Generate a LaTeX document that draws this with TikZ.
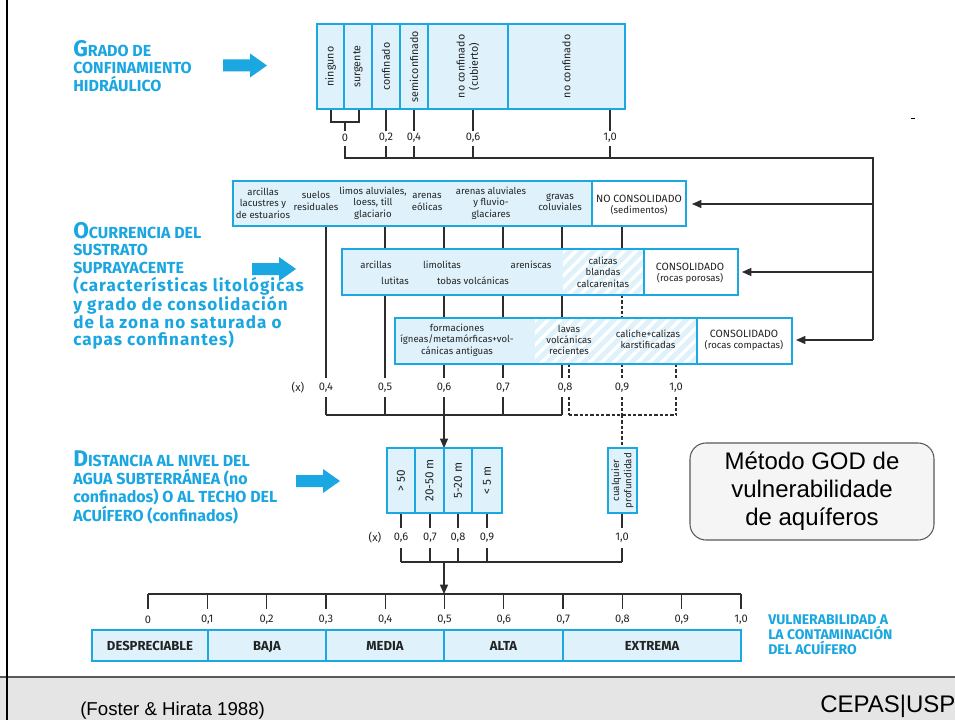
\documentclass[tikz,border=0pt]{standalone}
\usepackage{fontspec}
\setmainfont{Fira Sans}
\newfontfamily\arialf{Liberation Sans}
\usetikzlibrary{arrows.meta}
\definecolor{cyb}{RGB}{27,167,225}
\definecolor{lbf}{RGB}{223,242,252}
\definecolor{hdc}{RGB}{26,166,224}
\definecolor{lnc}{RGB}{45,45,45}
\definecolor{txc}{RGB}{35,35,35}
\definecolor{ftg}{RGB}{229,229,229}
\tikzset{
  boxb/.style={draw=cyb, line width=1.9pt},
  conn/.style={draw=lnc, line width=0.95pt},
  dconn/.style={draw=lnc, line width=0.95pt, dash pattern=on 2.5pt off 1.5pt},
  arr/.style={-{Triangle[length=7pt,width=6pt]}},
  btxt/.style={font=\fontsize{7.2}{8.5}\selectfont, text=txc, align=center, inner sep=0pt},
  vtxt/.style={font=\fontsize{8}{9.8}\selectfont, text=txc, align=center, inner sep=0pt, rotate=90},
  lab/.style={font=\fontsize{8.3}{9}\selectfont, text=txc, inner sep=0pt},
  head/.style={font=\fontsize{12}{13.2}\selectfont\bfseries, text=hdc, align=left, inner sep=0pt, anchor=north west},
  barl/.style={font=\fontsize{9.8}{10}\selectfont\bfseries, text=txc, inner sep=0pt, anchor=base},
}
\newcommand{\biglet}[1]{{\fontsize{17}{13}\selectfont #1}}
\newcommand{\lsp}[1]{{\fontsize{12.8}{13.2}\selectfont\addfontfeatures{LetterSpace=6}#1}}
\newcommand{\capl}[1]{{\fontsize{7.9}{8.5}\selectfont #1}}
\newcommand{\blockarr}[2]{%
  \fill[cyb] (#1,{#2-6}) -- ({#1+27},{#2-6}) -- ({#1+27},{#2-12}) -- ({#1+44},#2) -- ({#1+27},{#2+12}) -- ({#1+27},{#2+6}) -- (#1,{#2+6}) -- cycle;}
\newcommand{\hatchbox}[4]{%
  \begin{scope}
  \clip (#1,#2) rectangle (#3,#4);
  \fill[lbf] (#1,#2) rectangle (#3,#4);
  \foreach \k in {-6,...,15} \draw[white, line width=2.6pt] ({#1+\k*12},{#4+5}) -- ++(60,-60);
  \end{scope}}
\begin{document}
\begin{tikzpicture}[x=0.75pt,y=-0.75pt]
\useasboundingbox (0,0) rectangle (955,720);
\fill[white] (0,0) rectangle (955,720);

% footer
\fill[ftg] (0,677) rectangle (955,720);
\draw[black!65, line width=1pt] (0,677) -- (955,677);
\draw[black, line width=1.5pt] (7,0) -- (7,720);
\node[font=\arialf\fontsize{14}{16}\selectfont, anchor=base west, inner sep=0pt] (ref) at (80,715) {(Foster \& Hirata 1988)};
\node[font=\arialf\fontsize{18}{20}\selectfont, anchor=base west, inner sep=0pt] (cepas) at (820,712) {CEPAS|USP};
\draw[black, line width=0.6pt] (911,118) -- (915,118);

% headings
\node[head] (hgrado) at (73,40) {\biglet{G}RADO DE\\CONFINAMIENTO\\HIDRÁULICO};
\node[head] (hocur) at (73,222) {\biglet{O}CURRENCIA DEL\\SUSTRATO\\SUPRAYACENTE\\\lsp{(características litológicas}\\\lsp{y grado de consolidación}\\\lsp{de la zona no saturada o}\\\lsp{capas confinantes)}};
\node[head] (hdist) at (73,451) {\biglet{D}ISTANCIA AL NIVEL DEL\\AGUA SUBTERRÁNEA (no\\confinados) O AL TECHO DEL\\ACUÍFERO (confinados)};
\blockarr{223}{65.5}
\blockarr{252}{269}
\blockarr{296}{481}

% top labels
\node[lab] (t00) at (345,138) {0};
\node[lab] (t02) at (386,138) {0,2};
\node[lab] (t04) at (414,138) {0,4};
\node[lab] (t06) at (473,138) {0,6};
\node[lab] (t10) at (610,138) {1,0};

% top connectors
\draw[conn] (331,109) -- (331,122) -| (359,109);
\draw[conn] (t00 |- 0,122) -- (t00 |- 0,131);
\foreach \n in {t02,t04,t06,t10} {
  \draw[conn] (\n |- 0,109) -- (\n |- 0,131);
  \draw[conn] (\n |- 0,146) -- (\n |- 0,158);}
\draw[conn] (t00 |- 0,146) -- (t00 |- 0,158) -- (873,158) -- (873,340);
\draw[conn,arr] (873,204) -- (692,204);
\draw[conn,arr] (873,272) -- (742,272);
\draw[conn,arr] (873,340) -- (796,340);

% middle labels
\node[lab] (mx) at (298,388) {(x)};
\node[lab] (m04) at (326,388) {0,4};
\node[lab] (m05) at (385,388) {0,5};
\node[lab] (m06) at (444,388) {0,6};
\node[lab] (m07) at (503,388) {0,7};
\node[lab] (m08) at (565,388) {0,8};
\node[lab] (m09) at (622,388) {0,9};
\node[lab] (m10) at (676,388) {1,0};

% middle connectors
\foreach \x in {326,385,444,503,562} {
  \draw[conn] (\x,226) -- (\x,378);
  \draw[conn] (\x,397) -- (\x,415);}
\draw[conn] (326,415) -- (562,415);
\draw[conn] (622,226) -- (622,249);
\draw[dconn] (622,295) -- (622,318);
\foreach \x in {569,622,676} {
  \draw[dconn] (\x,364) -- (\x,378);
  \draw[dconn] (\x,397) -- (\x,415);}
\draw[dconn] (569,415) -- (676,415);
\draw[dconn] (622,415) -- (622,448);
\draw[conn,arr] (444,415) -- (444,448);

% lower labels
\node[lab] (lx) at (375,538) {(x)};
\node[lab] (l06) at (401,538) {0,6};
\node[lab] (l07) at (430,538) {0,7};
\node[lab] (l08) at (458,538) {0,8};
\node[lab] (l09) at (487,538) {0,9};
\node[lab] (l10) at (622,538) {1,0};
\foreach \n in {l06,l07,l08,l09,l10} {
  \draw[conn] (\n |- 0,513) -- (\n |- 0,528);
  \draw[conn] (\n |- 0,548) -- (\n |- 0,562);}
\draw[conn] (l06 |- 0,562) -- (l10 |- 0,562);
\draw[conn,arr] (444,562) -- (444,594);

% scale
\draw[conn] (148,594) -- (741,594);
\foreach \i/\t in {0/0,1/{0,1},2/{0,2},3/{0,3},4/{0,4},5/{0,5},6/{0,6},7/{0,7},8/{0,8},9/{0,9},10/{1,0}} {
  \draw[conn] ({148+\i*59.3},594) -- ({148+\i*59.3},609);
  \node[lab] (s\i) at ({148+\i*59.3},620) {\t};}

% top box
\fill[lbf] (317,24) rectangle (625,109);
\draw[boxb] (317,24) rectangle (625,109);
\foreach \x in {344,372,400,428,508} \draw[boxb] (\x,24) -- (\x,109);
\node[vtxt] (g1) at (330.5,66.5) {ninguno};
\node[vtxt] (g2) at (358,66.5) {surgente};
\node[vtxt] (g3) at (386,66.5) {confinado};
\node[vtxt] (g4) at (414,66.5) {semiconfinado};
\node[vtxt] (g5) at (468,66.5) {no confinado\\(cubierto)};
\node[vtxt] (g6) at (566.5,66.5) {no confinado};

% box 1
\fill[lbf] (233,181) rectangle (592,226);
\fill[white] (592,181) rectangle (686,226);
\draw[boxb] (233,181) rectangle (686,226);
\draw[boxb] (592,181) -- (592,226);
\node[btxt] (o1) at (263,203) {arcillas\\lacustres y\\de estuarios};
\node[btxt] (o2) at (316,201) {suelos\\residuales};
\node[btxt] (o3) at (373,203) {limos aluviales,\\loess, till\\glaciario};
\node[btxt] (o4) at (427,202) {arenas\\eólicas};
\node[btxt] (o5) at (491,203) {arenas aluviales\\y fluvio-\\glaciares};
\node[btxt] (o6) at (560,202) {gravas\\coluviales};
\node[btxt] (o7) at (639,205) {\capl{NO CONSOLIDADO}\\(sedimentos)};

% box 2
\fill[lbf] (342,249) rectangle (563,295);
\hatchbox{563}{249}{644}{295}
\fill[white] (644,249) rectangle (738,295);
\draw[boxb] (342,249) rectangle (738,295);
\draw[boxb] (644,249) -- (644,295);
\node[btxt] (p1) at (376,265) {arcillas};
\node[btxt] (p2) at (395,281) {lutitas};
\node[btxt] (p3) at (442,265) {limolitas};
\node[btxt] (p4) at (473,281) {tobas volcánicas};
\node[btxt] (p5) at (531,265) {areniscas};
\node[btxt] (p6) at (603,272) {calizas\\blandas\\calcarenitas};
\node[btxt] (p7) at (690,273) {\capl{CONSOLIDADO}\\(rocas porosas)};

% box 3
\fill[lbf] (395,318) rectangle (535,364);
\hatchbox{535}{318}{697}{364}
\fill[white] (697,318) rectangle (792,364);
\draw[boxb] (395,318) rectangle (792,364);
\draw[boxb] (697,318) -- (697,364);
\node[btxt] (q1) at (457,340) {formaciones\\ígneas/metamórficas+vol-\\cánicas antiguas};
\node[btxt] (q2) at (569,340) {lavas\\volcánicas\\recientes};
\node[btxt] (q3) at (648,339) {caliche+calizas\\karstificadas};
\node[btxt] (q4) at (744,340) {\capl{CONSOLIDADO}\\(rocas compactas)};

% distance box
\fill[lbf] (387,448) rectangle (502,513);
\draw[boxb] (387,448) rectangle (502,513);
\foreach \x in {415,444,472} \draw[boxb] (\x,448) -- (\x,513);
\node[vtxt, font=\fontsize{8.8}{10}\selectfont] (d1) at (401,480.5) {> 50};
\node[vtxt, font=\fontsize{8.8}{10}\selectfont] (d2) at (429.5,480.5) {20-50 m};
\node[vtxt, font=\fontsize{8.8}{10}\selectfont] (d3) at (458,480.5) {5-20 m};
\node[vtxt, font=\fontsize{8.8}{10}\selectfont] (d4) at (487,480.5) {< 5 m};
\fill[lbf] (608,448) rectangle (637,513);
\draw[boxb] (608,448) rectangle (637,513);
\node[vtxt, font=\fontsize{7.3}{9.3}\selectfont] (d5) at (622.5,480.5) {cualquier\\profundidad};

% vulnerability bar
\fill[lbf] (92,630) rectangle (741,661);
\draw[boxb] (92,630) rectangle (741,661);
\foreach \x in {208,326,444,563} \draw[boxb] (\x,630) -- (\x,661);
\node[barl] (v1) at (150,650) {DESPRECIABLE};
\node[barl] (v2) at (267,650) {BAJA};
\node[barl] (v3) at (385,650) {MEDIA};
\node[barl] (v4) at (503.5,650) {ALTA};
\node[barl] (v5) at (652,650) {EXTREMA};
\node[font=\fontsize{10.5}{11}\selectfont\bfseries, text=hdc, align=left, anchor=north west, inner sep=0pt] (vul) at (768,615) {VULNERABILIDAD A\\LA CONTAMINACIÓN\\DEL ACUÍFERO};

% method box
\node[draw=black!65, line width=0.8pt, fill=black!4, rounded corners=12pt, minimum width={244*0.75pt}, minimum height={97*0.75pt}, align=center, font=\arialf\fontsize{18}{21}\selectfont, text=black] (god) at (812,491.5) {Método GOD de\\vulnerabilidade\\de aquíferos};
\end{tikzpicture}
\end{document}
